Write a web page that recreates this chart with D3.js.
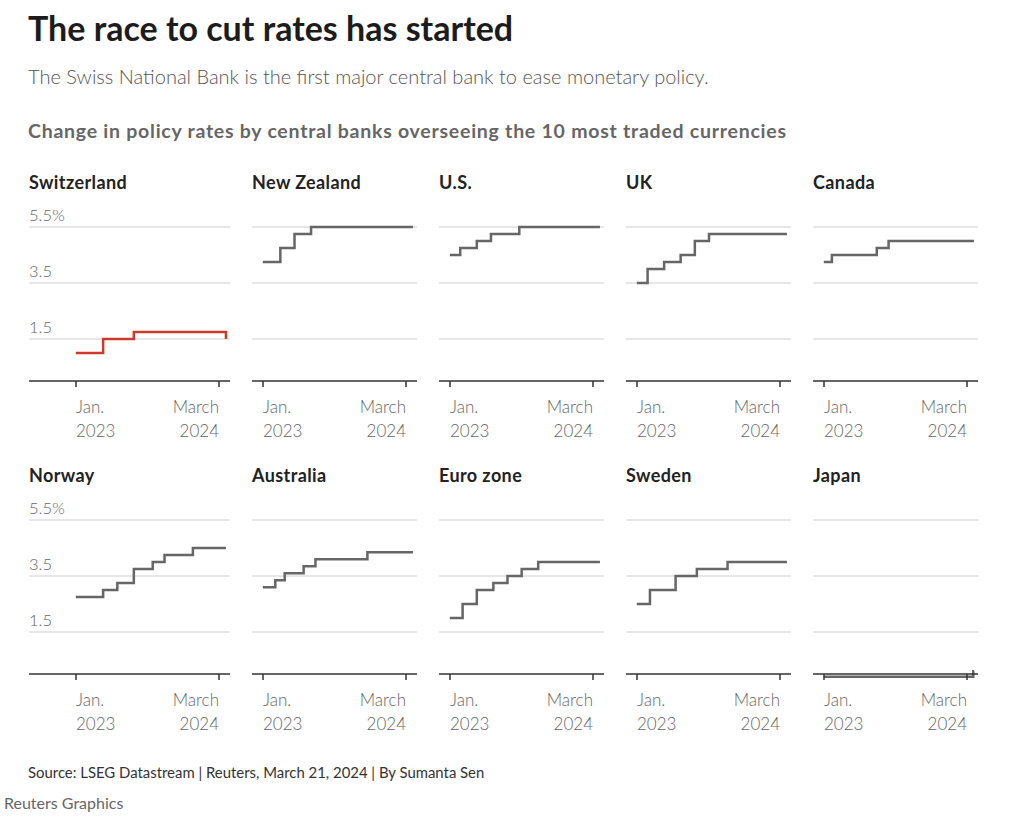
<!DOCTYPE html>
<html>
<head>
<meta charset="utf-8">
<script src="https://cdn.jsdelivr.net/npm/d3@7"></script>
<style>
  body { margin: 0; background: #fff; }
  svg { display: block; font-family: Lato, "Noto Sans", sans-serif; }
</style>
</head>
<body>
<svg></svg>
<script>
const width = 1024, height = 839;

// panels in reading order
const countries = ["Switzerland", "New Zealand", "U.S.", "UK", "Canada",
                   "Norway", "Australia", "Euro zone", "Sweden", "Japan"];

// policy rate change points [date, rate %], held until the next point
const switzerland = [["2023-01-01", 1.0], ["2023-03-23", 1.5], ["2023-06-22", 1.75], ["2024-03-21", 1.5]];
const newZealand = [["2023-01-01", 4.25], ["2023-02-22", 4.75], ["2023-04-05", 5.25], ["2023-05-24", 5.5], ["2024-03-21", 5.5]];
const us = [["2023-01-01", 4.5], ["2023-02-01", 4.75], ["2023-03-22", 5.0], ["2023-05-03", 5.25], ["2023-07-26", 5.5], ["2024-03-21", 5.5]];
const uk = [["2023-01-01", 3.5], ["2023-02-02", 4.0], ["2023-03-23", 4.25], ["2023-05-11", 4.5], ["2023-06-22", 5.0], ["2023-08-03", 5.25], ["2024-03-21", 5.25]];
const canada = [["2023-01-01", 4.25], ["2023-01-25", 4.5], ["2023-06-07", 4.75], ["2023-07-12", 5.0], ["2024-03-21", 5.0]];
const norway = [["2023-01-01", 2.75], ["2023-03-23", 3.0], ["2023-05-04", 3.25], ["2023-06-22", 3.75], ["2023-08-17", 4.0], ["2023-09-21", 4.25], ["2023-12-14", 4.5], ["2024-03-21", 4.5]];
const australia = [["2023-01-01", 3.1], ["2023-02-07", 3.35], ["2023-03-07", 3.6], ["2023-05-02", 3.85], ["2023-06-06", 4.1], ["2023-11-07", 4.35], ["2024-03-21", 4.35]];
const euroZone = [["2023-01-01", 2.0], ["2023-02-08", 2.5], ["2023-03-22", 3.0], ["2023-05-10", 3.25], ["2023-06-21", 3.5], ["2023-08-02", 3.75], ["2023-09-20", 4.0], ["2024-03-21", 4.0]];
const sweden = [["2023-01-01", 2.5], ["2023-02-09", 3.0], ["2023-04-26", 3.5], ["2023-06-28", 3.75], ["2023-09-27", 4.0], ["2024-03-21", 4.0]];
const japan = [["2023-01-01", -0.1], ["2024-03-19", 0.1], ["2024-03-21", 0.1]];

const series = [switzerland, newZealand, us, uk, canada, norway, australia, euroZone, sweden, japan];

const yTicks = [1.5, 3.5, 5.5];
const xTicks = [["2023-01-01", "Jan.", "2023"], ["2024-03-01", "March", "2024"]];

const parse = d3.timeParse("%Y-%m-%d");

const svg = d3.select("svg")
    .attr("width", width)
    .attr("height", height)
    .attr("viewBox", [0, 0, width, height]);

svg.append("rect").attr("width", width).attr("height", height).attr("fill", "#fff");

// headings
svg.append("text")
    .attr("x", 28).attr("y", 41)
    .attr("font-size", 34).attr("font-weight", 700).attr("fill", "#1c1c1c")
    .text("The race to cut rates has started");
svg.append("text")
    .attr("x", 28).attr("y", 84)
    .attr("font-size", 20).attr("font-weight", 300).attr("fill", "#555")
    .text("The Swiss National Bank is the first major central bank to ease monetary policy.");
svg.append("text")
    .attr("x", 28).attr("y", 138)
    .attr("font-size", 19.5).attr("font-weight", 700).attr("fill", "#666")
    .attr("letter-spacing", 0.75)
    .text("Change in policy rates by central banks overseeing the 10 most traded currencies");

// small multiples
const panelW = 165, colStep = 187, col0 = 65;
const rowBase = [381, 674];
const labelPad = 36;

const x = d3.scaleTime()
    .domain([parse("2022-11-30"), parse("2024-04-02")])
    .range([0, panelW]);
const y = d3.scaleLinear()
    .domain([0, 5.5])
    .range([0, -154]);

const line = d3.line()
    .curve(d3.curveStepAfter)
    .x(d => x(parse(d[0])))
    .y(d => y(d[1]));

countries.forEach((name, i) => {
    const col = i % 5, row = Math.floor(i / 5);
    const g = svg.append("g")
        .attr("transform", `translate(${col0 + col * colStep}, ${rowBase[row]})`);
    const left = col === 0 ? -labelPad : 0;

    g.append("text")
        .attr("x", left).attr("y", -192)
        .attr("font-size", 18).attr("font-weight", 700).attr("fill", "#222")
        .attr("letter-spacing", 0.4)
        .text(name);

    g.selectAll(".grid")
        .data(yTicks)
        .join("line")
        .attr("x1", left).attr("x2", panelW)
        .attr("y1", d => y(d)).attr("y2", d => y(d))
        .attr("stroke", "#cfcfcf").attr("stroke-width", 1);

    if (col === 0) {
        g.selectAll(".ylab")
            .data(yTicks)
            .join("text")
            .attr("x", left).attr("y", d => y(d) - 6)
            .attr("font-size", 16.5).attr("font-weight", 300).attr("fill", "#666")
            .text((d, k) => k === yTicks.length - 1 ? d + "%" : d);
    }

    g.append("path")
        .datum(series[i])
        .attr("d", line)
        .attr("fill", "none")
        .attr("stroke", i === 0 ? "#cc3a2e" : "#666")
        .attr("stroke-width", 2.5);

    // baseline axis
    g.append("line")
        .attr("x1", left).attr("x2", panelW)
        .attr("stroke", "#333").attr("stroke-width", 1.5);

    const tk = g.selectAll(".xtick")
        .data(xTicks)
        .join("g")
        .attr("transform", d => `translate(${Math.round(x(parse(d[0])))},0)`);
    tk.append("line").attr("y2", 6).attr("stroke", "#333").attr("stroke-width", 1.5);
    tk.append("text")
        .attr("y", 32)
        .attr("text-anchor", (d, k) => k === 0 ? "start" : "end")
        .attr("font-size", 17).attr("font-weight", 300).attr("fill", "#666")
        .text(d => d[1]);
    tk.append("text")
        .attr("y", 56)
        .attr("text-anchor", (d, k) => k === 0 ? "start" : "end")
        .attr("font-size", 17).attr("font-weight", 300).attr("fill", "#666")
        .text(d => d[2]);
});

// footer
svg.append("text")
    .attr("x", 28).attr("y", 778)
    .attr("font-size", 14.9).attr("fill", "#333")
    .text("Source: LSEG Datastream | Reuters, March 21, 2024 | By Sumanta Sen");
svg.append("text")
    .attr("x", 4).attr("y", 809)
    .attr("font-size", 16).attr("fill", "#666")
    .text("Reuters Graphics");
</script>
</body>
</html>
